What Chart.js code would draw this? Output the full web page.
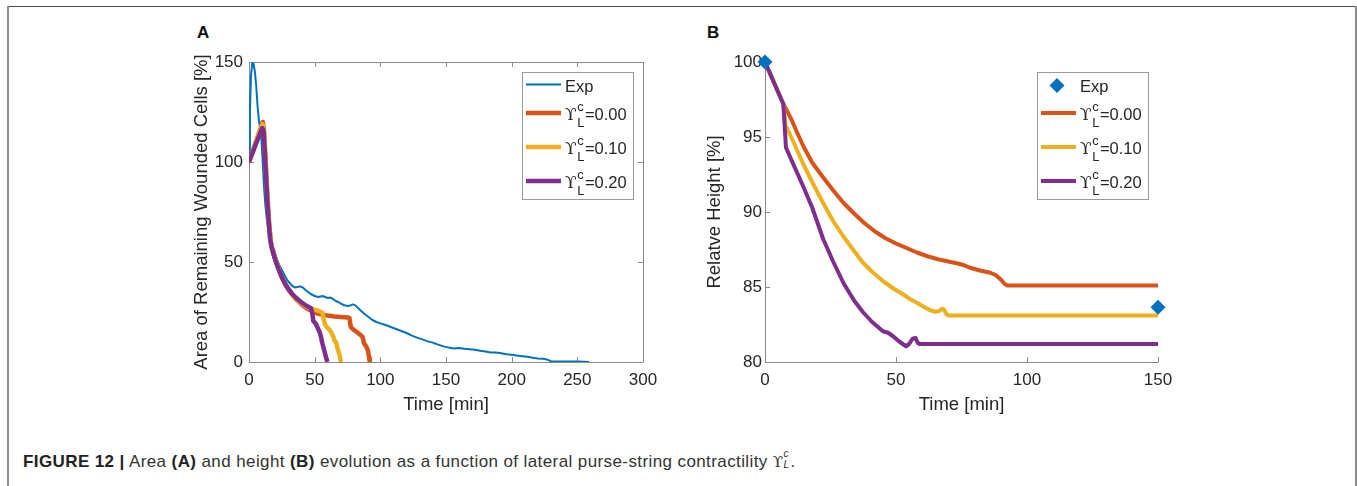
<!DOCTYPE html>
<html>
<head>
<meta charset="utf-8">
<script src="https://cdn.jsdelivr.net/npm/chart.js@4/dist/chart.umd.min.js"></script>
<style>
  html,body{margin:0;padding:0;background:#fff;}
  body{width:1357px;height:486px;overflow:hidden;position:relative;font-family:"Liberation Sans",Arial,Helvetica,sans-serif;}
  .frame-top{position:absolute;left:7px;top:6px;width:1349px;height:1px;background:#4a4a4a;}
  .frame-left{position:absolute;left:7px;top:6px;width:2px;height:480px;background:#8c8c8c;}
  .frame-right{position:absolute;left:1355px;top:6px;width:2px;height:480px;background:#8c8c8c;}
  .plabel{position:absolute;font-weight:bold;font-size:17px;line-height:17px;color:#111;}
  .wrap{position:absolute;}
  .caption{position:absolute;left:23px;top:454px;font-size:17px;line-height:15px;letter-spacing:0.4px;color:#333;white-space:nowrap;}
  .caption b{font-weight:bold;color:#222;}
  .ups{font-family:"DejaVu Serif",serif;font-size:15px;}
  .scr{display:inline-block;position:relative;width:7px;height:10px;}
  .scr i{position:absolute;left:0;font-size:10px;line-height:10px;font-style:italic;}
  .scr .sup{top:-8px;}
  .scr .sub{top:3px;}
</style>
</head>
<body>
<div class="frame-top"></div>
<div class="frame-left"></div>
<div class="frame-right"></div>
<div class="plabel" style="left:197px;top:24px;">A</div>
<div class="plabel" style="left:707px;top:24px;">B</div>
<div class="wrap" style="left:150px;top:20px;width:520px;height:400px;"><canvas id="cA" width="520" height="400"></canvas></div>
<div class="wrap" style="left:680px;top:20px;width:520px;height:400px;"><canvas id="cB" width="520" height="400"></canvas></div>
<div class="caption"><b>FIGURE 12 |</b> Area <b>(A)</b> and height <b>(B)</b> evolution as a function of lateral purse-string contractility <span class="ups">ϒ</span><span class="scr"><i class="sup">c</i><i class="sub">L</i></span>.</div>
<script>
// ---------- Panel A data: Area of remaining wounded cells [%] vs time [min] ----------
const A_EXP_T = [0,0.7,1.5,2.5,3.5,4.5,5.5,6.5,7.5,8.5,9.5,10.5,11.5,12.5,13.5,15,17,19,21,23,25,27,29,31,33,35,37,39,41,43,45,47,50,53,56,58,60,62,64,66,68,70,72,75,77,79,81,83,85,88,91,94,97,100,104,108,112,116,120,124,128,132,136,140,144,148,152,156,160,164,168,172,176,180,184,188,192,196,200,204,208,212,216,220,224,227,230,235,240,245,250,255,259];
const A_EXP   = [100,125,143,149.5,149,145,138,128,121,117,111,99,87,78,72,65.5,60.5,56,52,48.5,46,43.5,41,39.5,38,37.3,37.5,37.8,37.2,36,35,34,33,32.5,33,32.5,32,32.2,31.5,30.5,30,29.2,28.5,28,28.2,28.8,28.3,27,25.8,24,22.5,21,20,19.3,18.5,17.5,16.5,15.5,14.5,13.2,12.2,11.3,10.3,9.7,8.7,7.8,7.2,6.8,7,6.6,6.4,6.1,5.6,5.3,4.8,4.7,4.4,3.9,3.6,3.2,2.9,2.6,2.1,1.8,1.6,1.2,0.4,0.3,0.3,0.2,0.2,0.1,0];

const A_C000_T = [0,10.5,11.5,12.5,13.5,14.5,15.5,16.5,17.5,20,22,24,26,28,30,33,36,40,44,48,52,56,60,65,70,75,76.5,77.5,79,82,85,86.5,87.5,89,90.5,91.5,92];
const A_C000   = [100,120,115,103,90,78,68,61,57,51.5,47.5,44,41,38.5,36.3,33.5,31.3,28.8,26.8,25.3,24.3,23.6,23.2,22.8,22.5,22.3,22,17.5,16.5,15,13.5,12.5,9.5,8,6,2,0];

const A_C010_T = [0,10.3,11.3,12.3,13.3,14.3,15.3,16.3,17.3,20,22,24,26,28,30,33,36,40,44,48,52,55,56,57,58,60,62,64,65,66.5,67.5,69,70];
const A_C010   = [100,119,115,103,90,78,68,61,57,51.5,47.5,44,41,38.5,36.4,33.7,31.6,29.3,27.6,26.6,25.8,25,24.5,21,18.5,17,15.5,13,11,9.5,6.5,3.5,0];

const A_C020_T = [0,10,11,12,13,14,15,16,17,18,20,22,24,26,28,30,33,36,40,44,47,48,49,51,53,54,55,56,57,58,59,59.7];
const A_C020   = [100,117,116,105,92,80,70,62,58,55.5,51,47.3,44,41,38.6,36.5,34,32,29.8,28,27,25,20.5,19,16,14.5,12,9,6.5,4,1.5,0];

// ---------- Panel B data: Relative height [%] vs time [min] ----------
const B_EXP_T = [0,150];
const B_EXP   = [100,83.65];

const B_C000_T = [0,7,10,12,14.6,18,22,26,30,34,38,42,46,50,54,58,62,66,70,74,76,78,82,86,88,90,91.5,92.5,150];
const B_C000   = [100,97.2,96.2,95.4,94.4,93.3,92.35,91.45,90.6,89.9,89.25,88.7,88.25,87.9,87.6,87.3,87.05,86.85,86.7,86.55,86.45,86.3,86.1,85.95,85.8,85.5,85.2,85.1,85.1];

const B_C010_T = [0,7,7.8,10,14.6,18,22.2,26,30,34,37.5,41,45,49,52.8,55.3,58,60.4,63,65,66.5,67.5,68.3,69.2,70,150];
const B_C010   = [100,97.2,95.8,95.0,93.2,92.0,90.6,89.4,88.35,87.4,86.6,86.0,85.4,84.9,84.5,84.2,83.95,83.7,83.45,83.35,83.4,83.55,83.5,83.2,83.1,83.1];

const B_C020_T = [0,7,8,10,14.6,18,22.2,26,30,34,37.5,41,45,47,49,51,53.8,55,56.3,57.5,58.2,59,150];
const B_C020   = [100,97.2,94.3,93.5,91.7,90.3,88.2,86.7,85.25,84.1,83.3,82.65,82.05,81.95,81.7,81.4,81.05,81.2,81.55,81.6,81.3,81.2,81.2];

// ---------- Axis ranges / tick labels ----------
const A_X_TICKS = [0,50,100,150,200,250,300];
const A_Y_TICKS = [0,50,100,150];
const B_X_TICKS = [0,50,100,150];
const B_Y_TICKS = [80,85,90,95,100];

const LEGEND_LABELS = ['Exp','=0.00','=0.10','=0.20'];

const COL = {exp:'#0072BD', c000:'#D95319', c010:'#EDB120', c020:'#7E2F8E'};
const FONT = '"Liberation Sans", Arial, Helvetica, sans-serif';
const TXT = '#262626';
const AXC = '#8a8a8a';

function pts(t, v){ return t.map((x,i)=>({x:x, y:v[i]})); }

const axesPlugin = {
  id:'matlabAxes',
  beforeDatasetsDraw(chart, args, opts){
    const {ctx, chartArea:{left,right,top,bottom}} = chart;
    const xs = chart.scales.x, ys = chart.scales.y;
    const Lt = opts.tickLen || 5;
    ctx.save();
    ctx.strokeStyle = AXC; ctx.lineWidth = 1;
    ctx.beginPath();
    ctx.moveTo(left+0.5, top); ctx.lineTo(left+0.5, bottom+0.5); ctx.lineTo(right+0.5, bottom+0.5);
    if (opts.box){ ctx.moveTo(left, top+0.5); ctx.lineTo(right+0.5, top+0.5); ctx.lineTo(right+0.5, bottom); }
    xs.ticks.forEach(t=>{
      const px = Math.round(xs.getPixelForValue(t.value))+0.5;
      ctx.moveTo(px, bottom); ctx.lineTo(px, bottom-Lt);
      if (opts.box){ ctx.moveTo(px, top); ctx.lineTo(px, top+Lt); }
    });
    ys.ticks.forEach(t=>{
      const py = Math.round(ys.getPixelForValue(t.value))+0.5;
      ctx.moveTo(left, py); ctx.lineTo(left+Lt, py);
      if (opts.box){ ctx.moveTo(right, py); ctx.lineTo(right-Lt, py); }
    });
    ctx.stroke();
    ctx.restore();
  }
};

const legendPlugin = {
  id:'matlabLegend',
  afterDatasetsDraw(chart, args, opts){
    const {ctx, chartArea} = chart;
    const bx = Math.round(chartArea.right - opts.offRight - opts.w);
    const by = Math.round(chartArea.top + opts.offTop);
    ctx.save();
    ctx.fillStyle = '#fff';
    ctx.fillRect(bx, by, opts.w, opts.h);
    ctx.strokeStyle = '#9a9a9a'; ctx.lineWidth = 1;
    ctx.strokeRect(bx+0.5, by+0.5, opts.w, opts.h);
    const rows = [12.5, 41, 75, 109];
    chart.data.datasets.forEach((ds, i)=>{
      const y = by + rows[i];
      const x1 = bx + 4, x2 = bx + 39, tx = bx + 43;
      if (ds.showLine === false){
        const cx = bx + 20, r = 7.5;
        ctx.fillStyle = ds.backgroundColor;
        ctx.beginPath(); ctx.moveTo(cx-r,y+1); ctx.lineTo(cx,y+1-r); ctx.lineTo(cx+r,y+1); ctx.lineTo(cx,y+1+r); ctx.closePath(); ctx.fill();
      } else {
        ctx.strokeStyle = ds.borderColor; ctx.lineWidth = ds.borderWidth;
        ctx.beginPath(); ctx.moveTo(x1, y); ctx.lineTo(x2, y); ctx.stroke();
      }
      ctx.fillStyle = TXT;
      ctx.textBaseline = 'alphabetic'; ctx.textAlign = 'left';
      const lab = LEGEND_LABELS[i];
      if (i === 0){
        ctx.font = '16.5px ' + FONT;
        ctx.fillText(lab, (ds.showLine === false) ? bx + 43 : tx, y + 7.5);
      } else {
        ctx.font = '17px "DejaVu Serif", serif';
        ctx.fillText('ϒ', tx, y + 6.5);
        const w = ctx.measureText('ϒ').width;
        ctx.font = '13px ' + FONT;
        ctx.fillText('c', tx + w + 0.5, y - 2);
        ctx.fillText('L', tx + w + 0.5, y + 14);
        const sw = Math.max(ctx.measureText('c').width, ctx.measureText('L').width);
        ctx.font = '16.5px ' + FONT;
        ctx.fillText(lab, tx + w + sw + 1, y + 6.5);
      }
    });
    ctx.restore();
  }
};

function lineDs(label, t, v, color, width, order){
  return {label, data:pts(t,v), borderColor:color, backgroundColor:color, borderWidth:width,
          pointRadius:0, tension:0, borderJoinStyle:'round', borderCapStyle:'butt', order, fill:false};
}

function axisCommon(min, max, step, ticksArr, pad){
  return {
    type:'linear', min, max,
    afterBuildTicks(s){ s.ticks = ticksArr.map(v=>({value:v})); },
    grid:{display:false, drawTicks:false},
    border:{display:false},
    ticks:{color:TXT, font:{family:FONT, size:17}, padding:pad, stepSize:step, maxRotation:0, autoSkip:false}
  };
}

const TITLE_FONT = {family:FONT, size:18.5};

// ---------- Chart A ----------
const xA = axisCommon(0,300,50,A_X_TICKS,8);
xA.afterFit = s=>{ s.height = 58; };
xA.title = {display:true, text:'Time [min]', color:TXT, font:TITLE_FONT, padding:{top:0, bottom:4}};
const yA = axisCommon(0,150,50,A_Y_TICKS,6);
yA.afterFit = s=>{ s.width = 99; };
yA.title = {display:true, text:'Area of Remaining Wounded Cells [%]', color:TXT, font:TITLE_FONT, padding:{top:41, bottom:0}};

new Chart(document.getElementById('cA'), {
  type:'line',
  data:{datasets:[
    lineDs('Exp', A_EXP_T, A_EXP, COL.exp, 2, 4),
    lineDs('ϒLc=0.00', A_C000_T, A_C000, COL.c000, 4.5, 3),
    lineDs('ϒLc=0.10', A_C010_T, A_C010, COL.c010, 4.5, 2),
    lineDs('ϒLc=0.20', A_C020_T, A_C020, COL.c020, 4.5, 1)
  ]},
  options:{
    responsive:false, animation:false, devicePixelRatio:1,
    layout:{padding:{left:0, top:42, right:27, bottom:0}},
    scales:{x:xA, y:yA},
    plugins:{legend:{display:false}, tooltip:{enabled:false},
      matlabAxes:{box:true, tickLen:5},
      matlabLegend:{offRight:10, offTop:10, w:111, h:127}}
  },
  plugins:[axesPlugin, legendPlugin]
});

// ---------- Chart B ----------
const xB = axisCommon(0,150,50,B_X_TICKS,8);
xB.afterFit = s=>{ s.height = 58; };
xB.title = {display:true, text:'Time [min]', color:TXT, font:TITLE_FONT, padding:{top:0, bottom:4}};
const yB = axisCommon(80,100,5,B_Y_TICKS,3);
yB.afterFit = s=>{ s.width = 85; };
yB.title = {display:true, text:'Relatve Height [%]', color:TXT, font:TITLE_FONT, padding:{top:24, bottom:0}};

const expB = {label:'Exp', data:pts(B_EXP_T,B_EXP), showLine:false, pointStyle:'rectRot', pointRadius:7.5,
              pointBorderWidth:0, backgroundColor:COL.exp, borderColor:COL.exp, pointBackgroundColor:COL.exp, order:0, clip:false};

new Chart(document.getElementById('cB'), {
  type:'line',
  data:{datasets:[
    expB,
    lineDs('ϒLc=0.00', B_C000_T, B_C000, COL.c000, 4, 3),
    lineDs('ϒLc=0.10', B_C010_T, B_C010, COL.c010, 4, 2),
    lineDs('ϒLc=0.20', B_C020_T, B_C020, COL.c020, 4, 1)
  ]},
  options:{
    responsive:false, animation:false, devicePixelRatio:1,
    layout:{padding:{left:0, top:42, right:42, bottom:0}},
    scales:{x:xB, y:yB},
    plugins:{legend:{display:false}, tooltip:{enabled:false},
      matlabAxes:{box:false, tickLen:5},
      matlabLegend:{offRight:10, offTop:10, w:111, h:127}}
  },
  plugins:[axesPlugin, legendPlugin]
});
</script>
</body>
</html>
